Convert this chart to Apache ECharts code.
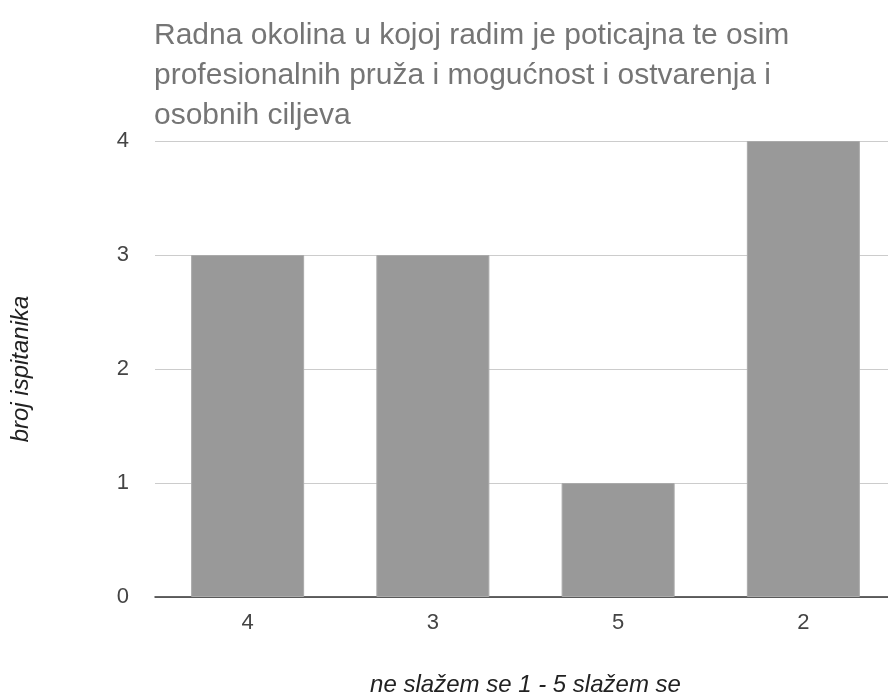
<!DOCTYPE html>
<html>
<head>
<meta charset="utf-8">
<script src="https://cdn.jsdelivr.net/npm/echarts@6/dist/echarts.min.js"></script>
<style>
  html, body { margin: 0; padding: 0; background: #fff; }
  #chart { width: 888px; height: 700px; }
</style>
</head>
<body>
<div id="chart"></div>
<script>
// odgovori na ljestvici 1-5 i broj ispitanika
const categories = ['4', '3', '5', '2'];
const counts = [3, 3, 1, 4];
const titleLines = [
    'Radna okolina u kojoj radim je poticajna te osim',
    'profesionalnih pruža i mogućnost i ostvarenja i',
    'osobnih ciljeva'
];

let myChart = echarts.init(document.getElementById('chart'));
let option = {
    backgroundColor: '#fff',
    animation: false,
    title: {
        text: titleLines.join('\n'),
        left: 149,
        top: 11,
        textStyle: {
            fontFamily: 'Liberation Sans',
            fontSize: 30,
            fontWeight: 'normal',
            color: '#757575',
            lineHeight: 40
        }
    },
    grid: {
        left: 155,
        width: 741,
        top: 141,
        height: 456,
        outerBoundsMode: 'none',
        containLabel: false
    },
    xAxis: {
        type: 'category',
        data: categories,
        name: 'ne slažem se 1 - 5 slažem se',
        nameLocation: 'middle',
        nameGap: 76,
        nameTextStyle: {
            fontFamily: 'Liberation Sans',
            fontStyle: 'italic',
            fontSize: 24,
            color: '#222'
        },
        axisLine: { lineStyle: { color: '#333', width: 1.5 } },
        axisTick: { show: false },
        axisLabel: {
            fontFamily: 'Liberation Sans',
            fontSize: 22,
            color: '#444',
            margin: 15
        }
    },
    yAxis: {
        type: 'value',
        min: 0,
        max: 4,
        interval: 1,
        name: 'broj ispitanika',
        nameLocation: 'middle',
        nameGap: 122,
        nameRotate: 90,
        nameTextStyle: {
            fontFamily: 'Liberation Sans',
            fontStyle: 'italic',
            fontSize: 24,
            color: '#222'
        },
        axisLine: { show: false },
        axisTick: { show: false },
        axisLabel: {
            fontFamily: 'Liberation Sans',
            fontSize: 22,
            color: '#444',
            margin: 26
        },
        splitLine: { lineStyle: { color: '#ccc', width: 1 } }
    },
    series: [
        {
            type: 'bar',
            data: counts,
            barCategoryGap: '39%',
            itemStyle: {
                color: '#999',
                borderColor: '#aaa',
                borderWidth: 1
            }
        }
    ]
};
myChart.setOption(option);
</script>
</body>
</html>
